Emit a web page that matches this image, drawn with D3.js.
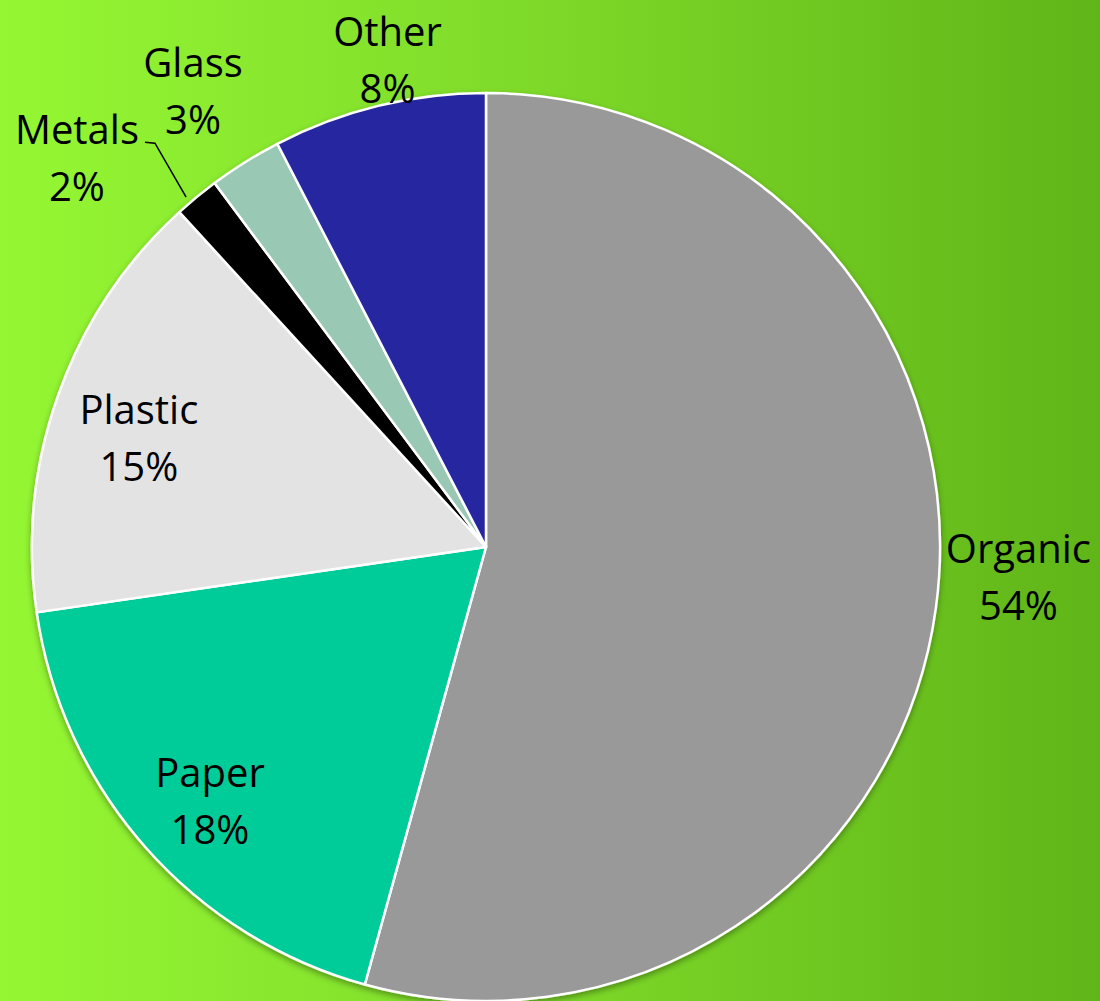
<!DOCTYPE html>
<html>
<head>
<meta charset="utf-8">
<script src="https://cdn.jsdelivr.net/npm/d3@7"></script>
<style>
  html, body { margin: 0; padding: 0; overflow: hidden; }
  text { font-family: "Open Sans", sans-serif; font-size: 40px; fill: #000; }
</style>
</head>
<body>
<div id="chart"></div>
<script>
// Waste composition data
var categories = ['Organic', 'Paper', 'Plastic', 'Metals', 'Glass', 'Other'];
var shares     = [54.3, 18.4, 15.5, 1.6, 2.6, 7.6];
var labels     = ['54%', '18%', '15%', '2%', '3%', '8%'];
var colors     = ['#999999', '#00CC99', '#E3E3E3', '#000000', '#99C9B4', '#2828A0'];

// Geometry
var width = 1100,
    height = 1001,
    cx = 486,
    cy = 547,
    r = 454,
    lineGap = 57;

// label placement: radius factor, angle nudge (deg), leader line yes/no
var placement = [
  {k: 1.175, da: -4.2, leader: false},
  {k: 0.83,  da: -1.5, leader: false},
  {k: 0.80,  da: -2.5, leader: false},
  {k: 1.24,  da: -7.0, leader: true},
  {k: 1.19,  da: -0.8, leader: false},
  {k: 1.09,  da:  2.2, leader: false}
];

var svg = d3.select('#chart').append('svg')
    .attr('width', width)
    .attr('height', height);

var defs = svg.append('defs');
var grad = defs.append('linearGradient')
    .attr('id', 'bg')
    .attr('x1', '0%').attr('x2', '100%')
    .attr('y1', '0%').attr('y2', '0%');
grad.append('stop').attr('offset', '0%').attr('stop-color', '#95F733');
grad.append('stop').attr('offset', '45%').attr('stop-color', '#80DC2A');
grad.append('stop').attr('offset', '100%').attr('stop-color', '#60B518');

var shadow = defs.append('filter').attr('id', 'shadow')
    .attr('x', '-10%').attr('y', '-10%').attr('width', '120%').attr('height', '120%');
shadow.append('feDropShadow')
    .attr('dx', 0).attr('dy', 3).attr('stdDeviation', 3)
    .attr('flood-color', '#000').attr('flood-opacity', 0.35);

svg.append('rect')
    .attr('width', width)
    .attr('height', height)
    .attr('fill', 'url(#bg)');

var pie = d3.pie().sort(null).value(function(d) { return d; });
var arcs = pie(shares);

var arc = d3.arc().innerRadius(0).outerRadius(r);

var g = svg.append('g')
    .attr('transform', 'translate(' + cx + ',' + cy + ')');

g.append('g')
    .attr('filter', 'url(#shadow)')
  .selectAll('path')
  .data(arcs)
  .enter().append('path')
    .attr('d', arc)
    .attr('fill', function(d, i) { return colors[i]; })
    .attr('stroke', '#ffffff')
    .attr('stroke-width', 2.5)
    .attr('stroke-linejoin', 'round');

function polar(angle, rad) {
  return [Math.sin(angle) * rad, -Math.cos(angle) * rad];
}

// Labels
var lab = g.selectAll('g.label')
  .data(arcs)
  .enter().append('g')
    .attr('class', 'label')
    .attr('transform', function(d, i) {
      var p = placement[i];
      var mid = (d.startAngle + d.endAngle) / 2 + p.da * Math.PI / 180;
      var pt = polar(mid, r * p.k);
      return 'translate(' + pt[0] + ',' + pt[1] + ')';
    });

lab.append('text')
    .attr('text-anchor', 'middle')
    .attr('y', -lineGap / 2 + 12)
    .text(function(d, i) { return categories[i]; });

lab.append('text')
    .attr('text-anchor', 'middle')
    .attr('y', lineGap / 2 + 12)
    .text(function(d, i) { return labels[i]; });

// Leader line for small slice
arcs.forEach(function(d, i) {
  if (!placement[i].leader) return;
  var mid = (d.startAngle + d.endAngle) / 2;
  var end = polar(mid - 1 * Math.PI / 180, r * 1.015);
  var p = placement[i];
  var lp = polar(mid + p.da * Math.PI / 180, r * p.k);
  var start = [lp[0] + 68, lp[1] - 18];
  g.append('path')
      .attr('d', d3.line()([start, [start[0] + 10, start[1] + 1], end]))
      .attr('fill', 'none')
      .attr('stroke', '#000')
      .attr('stroke-width', 1.5);
});
</script>
</body>
</html>
